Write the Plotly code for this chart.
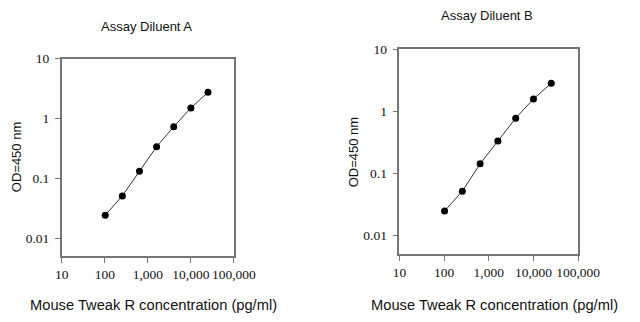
import plotly.graph_objects as go

# Standard curves: concentration (pg/ml) vs OD at 450 nm
conc = [102.4, 256, 640, 1600, 4000, 10000, 25000]
od_a = [0.0244, 0.0513, 0.132, 0.339, 0.730, 1.50, 2.74]
od_b = [0.0245, 0.0514, 0.142, 0.332, 0.775, 1.585, 2.84]

panel_titles = ["Assay Diluent A", "Assay Diluent B"]
x_title = "Mouse Tweak R concentration (pg/ml)"
y_title = "OD=450 nm"

x_tickvals = [10, 100, 1000, 10000, 100000]
x_ticktext = ["10", "100", "1,000", "10,000", "100,000"]
y_tickvals = [0.01, 0.1, 1, 10]
y_ticktext = ["0.01", "0.1", "1", "10"]

W, H = 640, 322
# plot boxes in pixels: (left, right, top, bottom)
boxes = [(57.3, 237.7, 52.7, 255.0), (411.0, 598.3, 43.3, 252.3)]

fig = go.Figure()
axis_line = "#767676"
tick_font = dict(family="Liberation Serif, Times New Roman, serif", size=13.5, color="#111")
sans = "Liberation Sans, Arial, sans-serif"

for i, (od, box) in enumerate(zip([od_a, od_b], boxes)):
    xa = "x" if i == 0 else "x2"
    ya = "y" if i == 0 else "y2"
    fig.add_trace(go.Scatter(
        x=conc, y=od, mode="lines+markers", xaxis=xa, yaxis=ya,
        line=dict(color="#333", width=1),
        marker=dict(color="black", size=7),
        showlegend=False,
    ))
    l, r, t, b = box
    xkey = "xaxis" if i == 0 else "xaxis2"
    ykey = "yaxis" if i == 0 else "yaxis2"
    fig.update_layout({
        xkey: dict(
            type="log", range=[1, 5], domain=[l / W, r / W],
            anchor=ya, tickvals=x_tickvals, ticktext=x_ticktext,
            ticks="outside", ticklen=5, tickcolor=axis_line,
            showline=True, linecolor=axis_line, linewidth=1.5, mirror=True,
            showgrid=False, zeroline=False, tickfont=tick_font,
        ),
        ykey: dict(
            type="log", range=[-2.3, 1], domain=[1 - b / H, 1 - t / H],
            anchor=xa, tickvals=y_tickvals, ticktext=y_ticktext,
            ticks="outside", ticklen=5, tickcolor=axis_line,
            ticklabelstandoff=3,
            showline=True, linecolor=axis_line, linewidth=1.5, mirror=True,
            showgrid=False, zeroline=False, tickfont=tick_font,
        ),
    })

annotations = [
    dict(text=panel_titles[0], x=146 / W, y=1 - 19.5 / H, size=13),
    dict(text=panel_titles[1], x=503 / W, y=1 - 8.5 / H, size=13),
    dict(text=x_title, x=153 / W, y=1 - 305 / H, size=14.7),
    dict(text=x_title, x=511 / W, y=1 - 305 / H, size=14.7),
    dict(text=y_title, x=10 / W, y=1 - 154 / H, size=13, angle=-90),
    dict(text=y_title, x=363 / W, y=1 - 149 / H, size=13, angle=-90),
]
fig.update_layout(annotations=[
    dict(text=a["text"], x=a["x"], y=a["y"], xref="paper", yref="paper",
         xanchor="center", yanchor="middle", showarrow=False,
         textangle=a.get("angle", 0),
         font=dict(family=sans, size=a["size"], color="#111"))
    for a in annotations
])

fig.update_layout(
    width=W, height=H, margin=dict(l=0, r=0, t=0, b=0),
    paper_bgcolor="white", plot_bgcolor="white",
)

fig.write_html("out.html")
